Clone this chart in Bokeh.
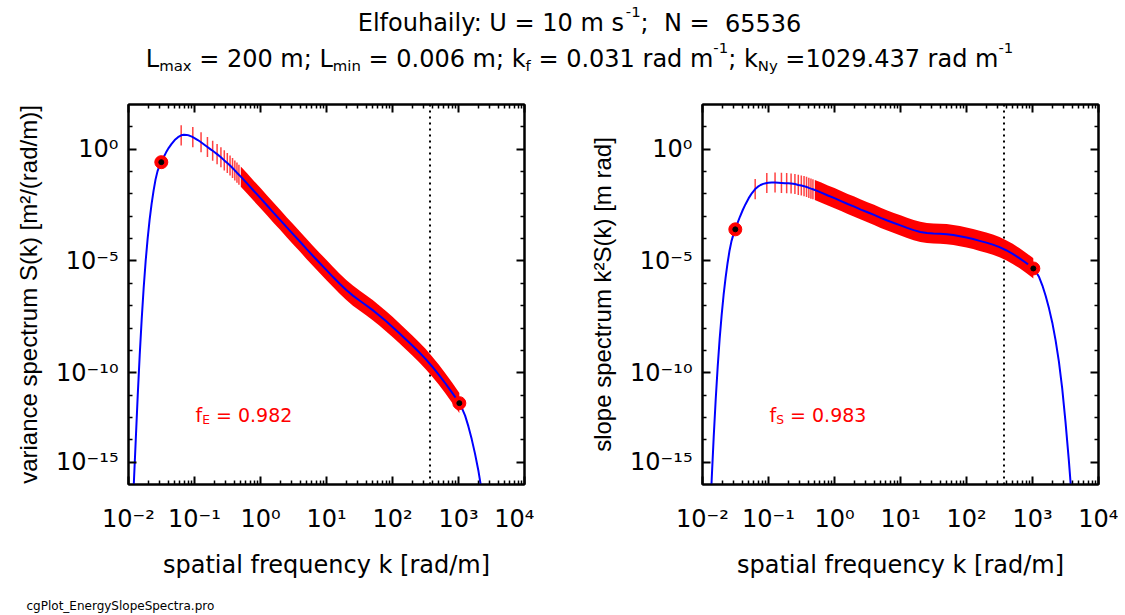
import numpy as np
from bokeh.plotting import figure
from bokeh.models import Range1d, LogAxis, FixedTicker, Span
from bokeh.layouts import column, row
from bokeh.embed import file_html
from bokeh.resources import INLINE
from bokeh.core.properties import value

# ---------------- data (log10 units) ----------------
curve_log10_k = [-1.92, -1.89, -1.86, -1.83, -1.80, -1.77, -1.74, -1.71, -1.68, -1.65,
                 -1.62, -1.59, -1.56, -1.53, -1.5029, -1.47, -1.43, -1.39, -1.35, -1.30,
                 -1.25, -1.2018, -1.16, -1.12, -1.08, -1.04, -1.0257, -1.00, -0.95, -0.9008,
                 -0.85, -0.8039, -0.75, -0.7247, -0.70, -0.6577, -0.5997, -0.5486, -0.5029, -0.4614,
                 -0.4237, -0.3889, -0.3567, -0.3268, -0.2987, -0.20, -0.10, 0.00, 0.10, 0.20,
                 0.30, 0.40, 0.50, 0.60, 0.70, 0.80, 0.90, 1.00, 1.10, 1.20,
                 1.30, 1.40, 1.50, 1.60, 1.70, 1.80, 1.90, 2.00, 2.10, 2.20,
                 2.30, 2.40, 2.50, 2.60, 2.70, 2.80, 2.90, 3.00, 3.0126, 3.05,
                 3.10, 3.15, 3.20, 3.25, 3.30, 3.35, 3.40, 3.45, 3.50, 3.55, 3.60]
curve_log10_S = [-15.0, -13.0, -11.0, -9.2, -7.6, -6.2, -5.0, -4.0, -3.15, -2.45,
                 -1.85, -1.35, -0.98, -0.74, -0.58, -0.37, -0.14, 0.06, 0.23, 0.41,
                 0.54, 0.62, 0.645, 0.64, 0.61, 0.56, 0.54, 0.50, 0.41, 0.31,
                 0.20, 0.10, -0.02, -0.07, -0.125, -0.22, -0.36, -0.50, -0.62, -0.73,
                 -0.84, -0.95, -1.05, -1.14, -1.225, -1.54, -1.87, -2.19, -2.52, -2.85,
                 -3.17, -3.50, -3.82, -4.14, -4.47, -4.79, -5.10, -5.41, -5.72, -6.02,
                 -6.30, -6.55, -6.77, -6.98, -7.20, -7.44, -7.69, -7.95, -8.22, -8.50,
                 -8.78, -9.07, -9.38, -9.72, -10.08, -10.47, -10.88, -11.30, -11.36, -11.57,
                 -11.92, -12.40, -12.97, -13.62, -14.36, -15.25, -16.3, -17.6, -19.2, -21.0, -23.0]
assert len(curve_log10_k) == len(curve_log10_S)

# discrete harmonics drawn as separate red marks (n = 2 .. 15)
harmonic_log10_k = [-1.2018, -1.0257, -0.9008, -0.8039, -0.7247, -0.6577, -0.5997,
                    -0.5486, -0.5029, -0.4614, -0.4237, -0.3889, -0.3567, -0.3268]
band_start_log10_k = -0.2987          # harmonics merge into a band from here
band_end_log10_k = 3.0126             # k_Ny
end_points_log10_k = [-1.5029, 3.0126]  # k_f and k_Ny
band_half_decades = 0.45
k_dotted = 370.0

x_ticks = [1e-2, 1e-1, 1e0, 1e1, 1e2, 1e3, 1e4]
x_tick_labels = ["10⁻²", "10⁻¹", "10⁰", "10¹", "10²", "10³", "10⁴"]
y_ticks = [1e0, 1e-5, 1e-10, 1e-14]
y_tick_labels = ["10⁰", "10⁻⁵", "10⁻¹⁰", "10⁻¹⁵"]

x_label = "spatial frequency k [rad/m]"
y_label_left = "variance spectrum S(k) [m²/(rad/m)]"
y_label_right = "slope spectrum k²S(k) [m rad]"
footer_text = "cgPlot_EnergySlopeSpectra.pro"

title_line1 = [("Elfouhaily: U = 10 m s", "n"), ("-1", "sup"), (";", "n"), ("  ", "n"),
               ("N =", "n"), ("  ", "n"), ("65536", "n")]
title_line2 = [("L", "n"), ("max", "sub"), (" = 200 m; L", "n"), ("min", "sub"),
               (" = 0.006 m; k", "n"), ("f", "sub"), (" = 0.031 rad m", "n"), ("-1", "sup"),
               ("; k", "n"), ("Ny", "sub"), (" =1029.437 rad m", "n"), ("-1", "sup")]
note_left = [("f", "n"), ("E", "sub"), (" = 0.982", "n")]
note_right = [("f", "n"), ("S", "sub"), (" = 0.983", "n")]

# ---------------- derived ----------------
lk = np.array(curve_log10_k)
k = 10.0 ** lk
S = 10.0 ** np.array(curve_log10_S)
slope = k ** 2 * S
idx = {v: i for i, v in enumerate(curve_log10_k)}
h_idx = [idx[v] for v in harmonic_log10_k]
e_idx = [idx[v] for v in end_points_log10_k]
band = (lk >= band_start_log10_k) & (lk <= band_end_log10_k)
fac = 10.0 ** band_half_decades

FONT = "DejaVu Sans"
FONT_V = "Liberation Sans"
W = {' ': .318, '.': .318, ':': .337, ';': .337, '=': .838, '-': .361, '/': .337,
     '0': .636, '1': .636, '2': .636, '3': .636, '4': .636, '5': .636, '6': .636,
     '7': .636, '8': .636, '9': .636, 'E': .632, 'L': .557, 'N': .748, 'S': .635,
     'U': .732, 'a': .613, 'd': .635, 'f': .352, 'h': .634, 'i': .278, 'k': .579,
     'l': .278, 'm': .974, 'n': .634, 'o': .612, 'r': .411, 's': .521, 'u': .634,
     'x': .592, 'y': .592}


def tw(s, size):
    return sum(W.get(c, 0.62) for c in s) * size


FRAME_W, FRAME_H = 396, 380
Y_DECADES = 17.0
PX_PER_DEC_Y = FRAME_H / Y_DECADES


def style_axis(ax, labels, ticks=None):
    ax.axis_line_width = 2
    ax.axis_line_color = "black"
    ax.major_tick_in = 8
    ax.major_tick_out = 0
    ax.minor_tick_in = 4
    ax.minor_tick_out = 0
    ax.major_tick_line_width = 2
    ax.minor_tick_line_width = 1.5
    ax.major_tick_line_color = "black"
    ax.minor_tick_line_color = "black"
    if labels:
        ax.major_label_text_font = FONT
        ax.major_label_text_font_size = "24px"
        ax.major_label_text_color = "black"
    else:
        ax.major_label_overrides = {t: "" for t in ticks}
        ax.major_label_text_font_size = "1px"
        ax.major_label_standoff = 0


x_minor = [m * 10.0 ** e for e in range(-2, 4) for m in range(2, 10)]
y_minor = [10.0 ** e for e in range(-13, 2) if e not in (0, -5, -10)]


def make_panel(yvals, ylabel, note, border_left, border_right):
    p = figure(x_axis_type="log", y_axis_type="log",
               x_range=Range1d(1e-2, 1e4), y_range=Range1d(1e-15, 1e2),
               frame_width=FRAME_W, frame_height=FRAME_H,
               min_border_left=border_left, min_border_right=border_right,
               min_border_top=6, min_border_bottom=105,
               output_backend="svg", toolbar_location=None, tools="")
    p.grid.visible = False
    p.outline_line_color = "black"
    p.outline_line_width = 2
    p.background_fill_color = "white"
    p.border_fill_color = "white"

    xt = FixedTicker(ticks=x_ticks, minor_ticks=x_minor)
    yt = FixedTicker(ticks=y_ticks, minor_ticks=y_minor)

    bx = p.below[0]
    bx.ticker = xt
    style_axis(bx, True)
    bx.major_label_overrides = dict(zip(x_ticks, x_tick_labels))
    bx.major_label_standoff = 20
    bx.axis_label = x_label
    bx.axis_label_text_font = FONT
    bx.axis_label_text_font_size = "24px"
    bx.axis_label_text_font_style = "normal"
    bx.axis_label_text_color = "black"
    bx.axis_label_standoff = 15

    ly = p.left[0]
    ly.ticker = yt
    style_axis(ly, True)
    ly.major_label_overrides = dict(zip(y_ticks, y_tick_labels))
    ly.major_label_standoff = 10
    ly.axis_label = ylabel
    ly.axis_label_text_font = FONT_V
    ly.axis_label_text_font_size = "24px"
    ly.axis_label_text_font_style = "normal"
    ly.axis_label_text_color = "black"
    ly.axis_label_standoff = 11

    top = LogAxis(ticker=xt)
    style_axis(top, False, x_ticks)
    p.add_layout(top, "above")
    right = LogAxis(ticker=yt)
    style_axis(right, False, y_ticks)
    p.add_layout(right, "right")

    p.add_layout(Span(location=k_dotted, dimension="height", line_color="black",
                      line_width=2, line_dash="2 4", level="underlay"))

    yb = yvals[band]
    p.varea(x=k[band], y1=yb / fac, y2=yb * fac, fill_color="#ff0000", fill_alpha=1.0)
    hk = k[h_idx]
    hy = yvals[h_idx]
    p.segment(x0=hk, y0=hy / fac, x1=hk, y1=hy * fac, line_color="#ff0000",
              line_width=1.5, line_alpha=0.75)
    p.line(k, yvals, line_color="#0000ff", line_width=2)
    p.scatter(k[e_idx], yvals[e_idx], size=13, fill_color="#ff0000", line_color="#ff0000")
    p.scatter(k[e_idx], yvals[e_idx], size=5, fill_color="black", line_color="black")

    # annotation f = value
    size = 19
    x0 = 10 ** -0.985
    y0 = 10 ** -11.91
    off = 0.0
    for t, kind in note:
        sz = size if kind == "n" else size * 0.65
        lead = len(t) - len(t.lstrip(" "))
        core = t.strip(" ")
        y = y0 if kind == "n" else y0 * 10 ** (-0.25 * size / PX_PER_DEC_Y)
        if core:
            p.text(x=[x0], y=[y], text=[core], x_offset=off + lead * W[' '] * sz,
                   text_font=value(FONT), text_font_size=value(f"{sz:.1f}px"),
                   text_color="#ff0000", text_align="left", text_baseline="alphabetic")
        off += tw(t, sz)
    return p


p1 = make_panel(S, y_label_left, note_left, 128, 10)
p2 = make_panel(slope, y_label_right, note_right, 168, 20)

TOTAL_W = 1118
TITLE_H = 98

# ---------------- title strip ----------------
tf = figure(width=TOTAL_W, height=TITLE_H, x_range=Range1d(0, TOTAL_W), y_range=Range1d(0, TITLE_H),
            x_axis_location=None, y_axis_location=None, min_border=0,
            output_backend="svg", toolbar_location=None, tools="")
tf.grid.visible = False
tf.outline_line_color = None


def rich_line(fig, cx, yb, parts, size):
    small = size * 0.62
    widths = [tw(t, size if kd == "n" else small) for t, kd in parts]
    x = cx - sum(widths) / 2
    for (t, kd), w in zip(parts, widths):
        sz = size if kd == "n" else small
        lead = len(t) - len(t.lstrip(" "))
        core = t.strip(" ")
        y = yb if kd == "n" else (yb - 0.30 * size if kd == "sub" else yb + 0.42 * size)
        if core:
            fig.text(x=[x + lead * W[' '] * sz], y=[y], text=[core],
                     text_font=value(FONT), text_font_size=value(f"{sz:.1f}px"),
                     text_color="black", text_align="left", text_baseline="alphabetic")
        x += w


rich_line(tf, 579, TITLE_H - 22, title_line1, 24)
rich_line(tf, 579, TITLE_H - 58, title_line2, 24)

# ---------------- footer strip ----------------
FOOT_H = 24
ff = figure(width=TOTAL_W, height=FOOT_H, x_range=Range1d(0, TOTAL_W), y_range=Range1d(0, FOOT_H),
            x_axis_location=None, y_axis_location=None, min_border=0,
            output_backend="svg", toolbar_location=None, tools="")
ff.grid.visible = False
ff.outline_line_color = None
ff.text(x=[26], y=[8], text=[footer_text], text_font=value(FONT),
        text_font_size=value("12px"), text_color="black",
        text_align="left", text_baseline="alphabetic")

layout = column(tf, row(p1, p2), ff)
open("out.html", "w").write(file_html(layout, INLINE))
